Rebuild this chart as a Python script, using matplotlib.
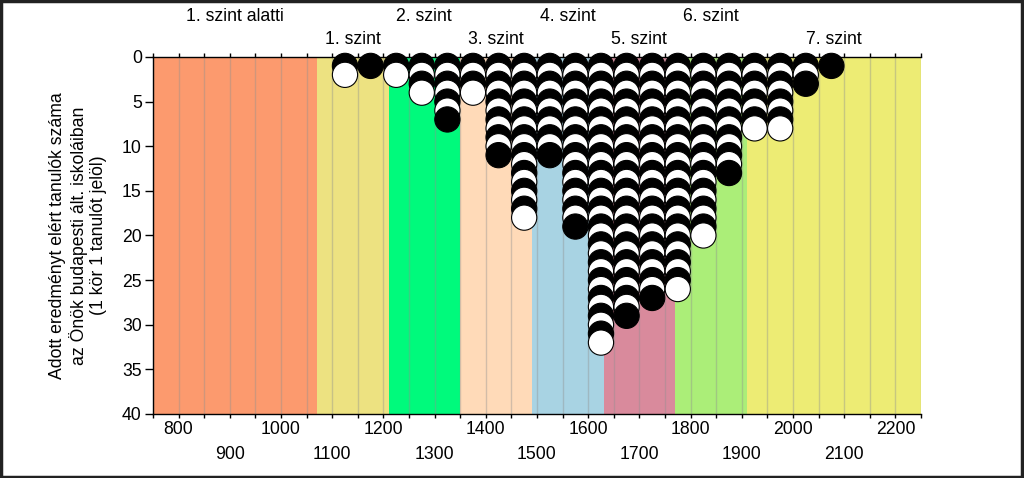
import numpy as np
import matplotlib
matplotlib.use('Agg')
import matplotlib.pyplot as plt
from matplotlib.patches import Rectangle

plt.rcParams['font.family'] = ['Liberation Sans', 'DejaVu Sans']

# Képességszintek határai és színei
level_edges = [750, 1070, 1210, 1350, 1490, 1630, 1770, 1910, 2250]
level_names = ['1. szint alatti', '1. szint', '2. szint', '3. szint',
               '4. szint', '5. szint', '6. szint', '7. szint']
level_colors = ['#FC9A6E', '#EDE281', '#00FA7C', '#FFDAB8',
                '#A8D3E3', '#D98A9C', '#ABEE78', '#EDEC74']

# Tanulók száma 50 pontos sávonként (sáv közepe)
bin_centers = [1125, 1175, 1225, 1275, 1325, 1375, 1425, 1475, 1525, 1575,
               1625, 1675, 1725, 1775, 1825, 1875, 1925, 1975, 2025, 2075]
counts = [2, 1, 2, 4, 7, 4, 11, 18, 11, 19,
          32, 29, 27, 26, 20, 13, 8, 8, 3, 1]

ylabel = ('Adott eredményt elért tanulók száma\n'
          'az Önök budapesti ált. iskoláiban\n'
          '(1 kör 1 tanulót jelöl)')

fs = 12.7

fig = plt.figure(figsize=(10.24, 4.78), dpi=100)
ax = fig.add_axes([0.1494, 0.1339, 0.7500, 0.7469])

# háttérsávok
for i in range(len(level_names)):
    ax.axvspan(level_edges[i], level_edges[i + 1], color=level_colors[i],
               zorder=0, lw=0)
    mid = (level_edges[i] + level_edges[i + 1]) / 2
    ty = 1.048 if i % 2 else 1.112
    ax.text(mid, ty, level_names[i], transform=ax.get_xaxis_transform(),
            ha='center', va='center', fontsize=fs)

# függőleges rácsvonalak
for gx in np.arange(750, 2251, 50):
    ax.axvline(gx, color='#909090', alpha=0.4, lw=1, zorder=1)

# körök: minden tanuló egy kör, felváltva fekete / fehér
xs, ys, cs = [], [], []
for c, n in zip(bin_centers, counts):
    for k in range(1, n + 1):
        xs.append(c)
        ys.append(k)
        cs.append('black' if k % 2 else 'white')
ax.scatter(xs, ys, s=330, c=cs, edgecolors='black', linewidths=0.8,
           zorder=3, clip_on=False)

ax.set_xlim(750, 2250)
ax.set_ylim(40, 0)
ax.set_yticks(np.arange(0, 41, 5))

major = np.arange(750, 2251, 50)
ax.set_xticks(major)
ax.set_xticklabels([str(v) if (v % 200 == 0 and 800 <= v <= 2200) else ''
                    for v in major])
odd = np.arange(900, 2101, 200)
ax.xaxis.remove_overlapping_locs = False
ax.set_xticks(odd, minor=True)
ax.set_xticklabels([str(v) for v in odd], minor=True)

ax.tick_params(axis='x', which='major', top=True, bottom=True,
               direction='out', length=3, width=1, labelsize=fs, pad=2)
ax.tick_params(axis='x', which='minor', top=False, length=0,
               labelsize=fs, pad=23)
ax.tick_params(axis='y', direction='out', length=6, width=1,
               labelsize=fs, pad=2)

ax.spines['right'].set_visible(False)
for s in ['left', 'top', 'bottom']:
    ax.spines[s].set_linewidth(1)
    ax.spines[s].set_zorder(2)

ax.set_ylabel(ylabel, fontsize=fs, labelpad=10.5, linespacing=1.2)

# keret a kép körül
fig.patches.append(Rectangle((0.001, 0.002), 0.997, 0.995,
                             transform=fig.transFigure, fill=False,
                             edgecolor='#222222', lw=2.5))

fig.savefig('out.png', dpi=100)
